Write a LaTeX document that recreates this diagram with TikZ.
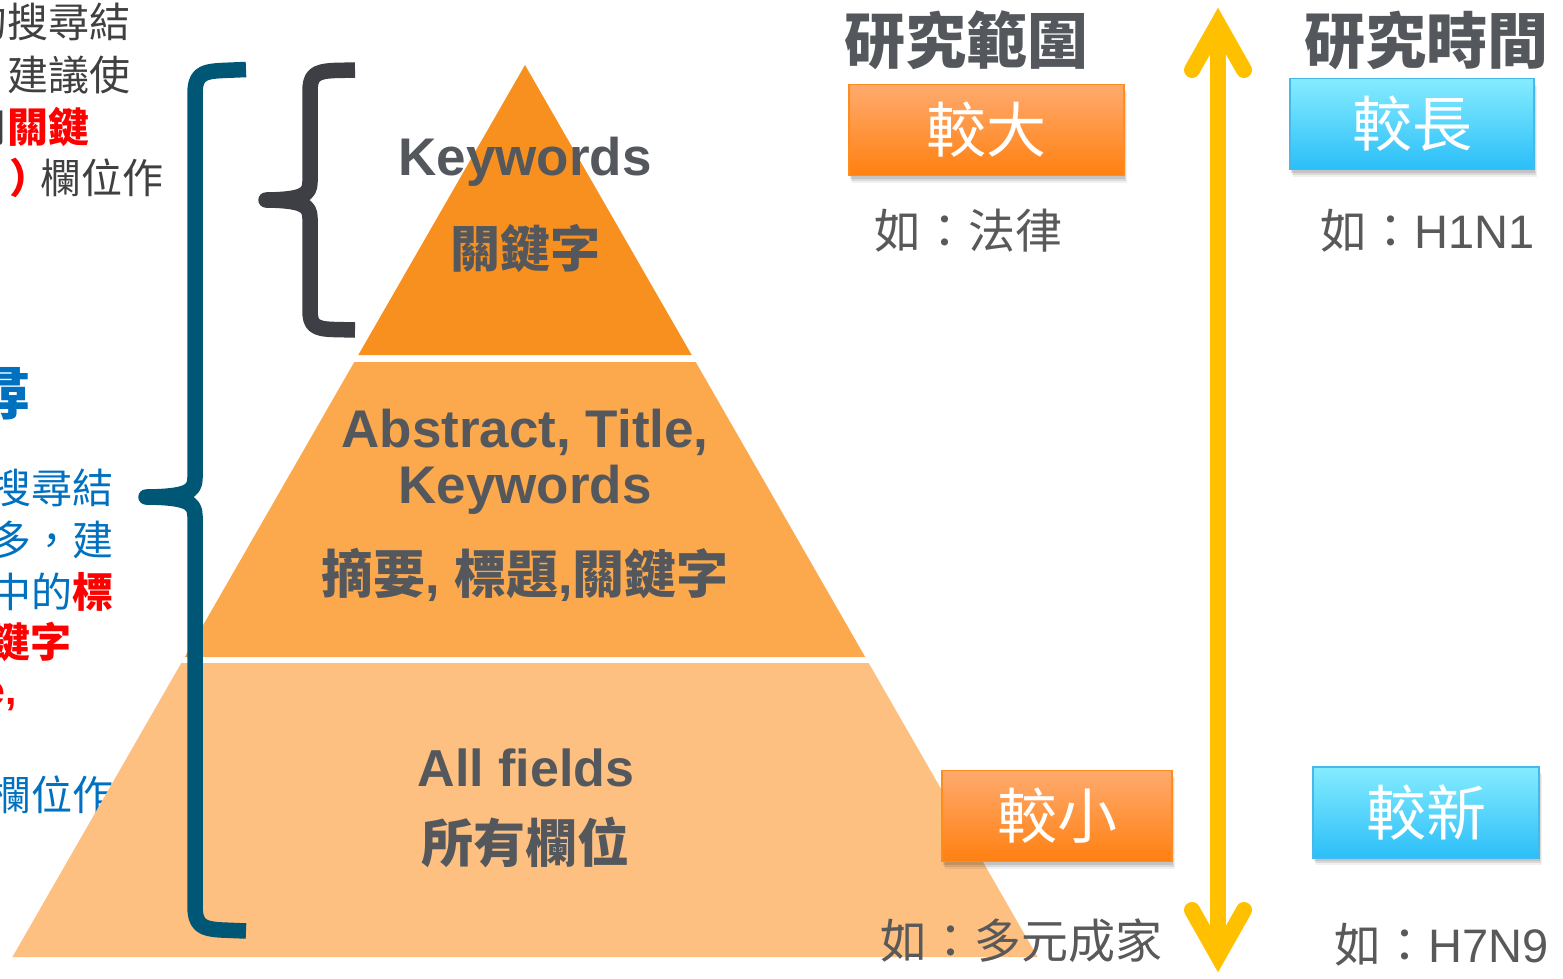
\documentclass[tikz,border=0pt]{standalone}
\usepackage{fontspec}
\setmainfont{Liberation Sans}
\newfontfamily\cjk{Noto Sans CJK TC}
\usetikzlibrary{shadows,calc}
\definecolor{pyrA}{RGB}{248,144,32}
\definecolor{pyrB}{RGB}{252,168,77}
\definecolor{pyrC}{RGB}{253,192,129}
\definecolor{txtgray}{RGB}{84,88,93}
\definecolor{exgray}{RGB}{89,89,89}
\definecolor{leftgray}{RGB}{64,64,64}
\definecolor{leftblue}{RGB}{0,112,192}
\definecolor{redtxt}{RGB}{255,0,0}
\definecolor{brblue}{RGB}{0,87,117}
\definecolor{brgray}{RGB}{62,63,68}
\definecolor{arrowyellow}{RGB}{255,192,0}
\definecolor{orTop}{RGB}{255,170,110}
\definecolor{orBot}{RGB}{255,128,16}
\definecolor{orLine}{RGB}{255,140,30}
\definecolor{blTop}{RGB}{133,236,255}
\definecolor{blBot}{RGB}{43,190,248}
\definecolor{blLine}{RGB}{70,185,235}
\begin{document}
\begin{tikzpicture}[x=1pt,y=-1pt,
  leftline/.style={inner sep=0pt, anchor=base east, font=\cjk\fontsize{41}{41}\selectfont},
  pyrtext/.style={inner sep=0pt, text=txtgray},
  pyrlatin/.style={pyrtext, anchor=base, font=\bfseries\fontsize{53}{56}\selectfont},
  pyrcjk/.style={pyrtext, font=\cjk\bfseries\fontsize{52}{52}\selectfont},
  softshadow/.style={
    general shadow={shadow xshift=1pt, shadow yshift=-3pt, fill=black, opacity=0.10},
    general shadow={shadow xshift=2pt, shadow yshift=-5pt, fill=black, opacity=0.09},
    general shadow={shadow xshift=2.5pt, shadow yshift=-7pt, fill=black, opacity=0.06}},
  boxbase/.style={line width=1.2pt, text=white, inner sep=0pt,
    font=\cjk\fontsize{60}{60}\selectfont, softshadow},
  obox/.style={boxbase, draw=orLine, top color=orTop, bottom color=orBot},
  bbox/.style={boxbase, draw=blLine, top color=blTop, bottom color=blBot},
  titletext/.style={inner sep=0pt, text=txtgray, font=\cjk\bfseries\fontsize{61}{61}\selectfont},
  extext/.style={inner sep=0pt, anchor=west, text=exgray, font=\cjk\fontsize{47}{47}\selectfont},
  bracestroke/.style={line width=15.5pt, line join=round, line cap=butt},
  arrowstroke/.style={draw=arrowyellow, line width=16pt}
]
\useasboundingbox (0,0) rectangle (1563,978);
\clip (0,0) rectangle (1563,978);
\fill[white] (0,0) rectangle (1563,978);

% ---- cropped left text (gray block)
\node[leftline, text=leftgray] (g1) at (131,37.6) {的搜尋結};
\node[leftline, text=leftgray] (g2) at (131,90.6) {建議使};
\node[leftline, text=leftgray] (g3) at (90,142.6) {用{\color{redtxt}\bfseries 關鍵}};
\node[leftline, text=leftgray] (g4) at (164,193.6) {{\color{redtxt}\bfseries ）}\kern-10pt 欄位作};

% ---- cropped left text (blue block)
\node[inner sep=0pt, anchor=base east, text=leftblue, font=\cjk\bfseries\fontsize{58}{58}\selectfont] (bt) at (31,414) {尋};
\node[leftline, text=leftblue] (b1) at (114,503.6) {搜尋結};
\node[leftline, text=leftblue] (b2) at (114,555.6) {多，建};
\node[leftline, text=leftblue] (b3) at (114,607.6) {中的{\color{redtxt}\bfseries 標}};
\node[leftline, text=redtxt, font=\cjk\bfseries\fontsize{41}{41}\selectfont] (b4) at (72,657.6) {鍵字};
\node[inner sep=0pt, anchor=base east, text=redtxt, font=\bfseries\fontsize{41}{41}\selectfont] (b5) at (17,704) {e,};
\node[leftline, text=leftblue] (b7) at (114,810.6) {欄位作};

% ---- pyramid
\fill[pyrA] (525,65) -- (691.7,355) -- (358.3,355) -- cycle;
\fill[pyrB] (354.3,362) -- (695.7,362) -- (865.2,657) -- (184.8,657) -- cycle;
\fill[pyrC] (181.3,663) -- (868.7,663) -- (1037.6,957) -- (12.4,957) -- cycle;

\node[pyrlatin] (kw) at (525,175) {Keywords};
\node[pyrcjk, font=\cjk\bfseries\fontsize{50}{50}\selectfont] (kwzh) at (525,248) {關鍵字};
\node[pyrlatin] (abs) at (525,447) {Abstract, Title,};
\node[pyrlatin] (kw2) at (525,503) {Keywords};
\node[pyrcjk, font=\bfseries\fontsize{52}{52}\selectfont] (abszh) at (525,575) {{\cjk 摘要}, {\cjk 標題},{\cjk 關鍵字}};
\node[pyrlatin, font=\bfseries\fontsize{52}{56}\selectfont] (all) at (526,786) {All fields};
\node[pyrcjk] (allzh) at (525,842) {所有欄位};

% ---- braces
\draw[bracestroke, draw=brblue]
  (246,69.5) -- (222,70.5) .. controls (200,71.5) and (195,76) .. (195,95)
  -- (195,478) .. controls (195,492) and (186,496.5) .. (146,497)
  .. controls (186,497.5) and (195,502) .. (195,516)
  -- (195,905) .. controls (195,924) and (200,929) .. (222,930) -- (246,931);
\draw[bracestroke, draw=brgray]
  (355,70) -- (334,70.5) .. controls (314,71.5) and (310,76) .. (310,92)
  -- (310,182) .. controls (310,195) and (302,199.5) .. (266,200)
  .. controls (302,200.5) and (310,205) .. (310,218)
  -- (310,310) .. controls (310,325) and (314,329) .. (334,329.5) -- (355,330);

% ---- double arrow
\coordinate (atop) at (1218,24);
\coordinate (abot) at (1218,956);
\draw[arrowstroke] (atop) -- (abot);
\draw[arrowstroke, line cap=round, line join=miter]
  ($(atop)+(-26,46)$) -- (atop) -- ($(atop)+(26,46)$);
\draw[arrowstroke, line cap=round, line join=miter]
  ($(abot)+(-26,-46)$) -- (abot) -- ($(abot)+(26,-46)$);

% ---- titles
\node[titletext] (range) at (966,40) {研究範圍};
\node[titletext] (time) at (1426,40) {研究時間};

% ---- boxes
\node[obox, minimum width=275pt, minimum height=91pt] (big) at (986.5,130) {較大};
\node[bbox, minimum width=244pt, minimum height=91pt] (long) at (1412,124) {較長};
\node[extext] (ex1) at (874,231) {如：法律};
\node[extext] (ex2) at (1320,231) {如：{\rmfamily H1N1}};

\node[extext] (ex3) at (880,941) {如：多元成家};
\node[obox, minimum width=230pt, minimum height=91pt] (small) at (1057,816) {較小};
\node[bbox, minimum width=226pt, minimum height=91pt] (new) at (1426,812.5) {較新};
\node[extext] (ex4) at (1334,945) {如：{\rmfamily H7N9}};
\end{tikzpicture}
\end{document}
